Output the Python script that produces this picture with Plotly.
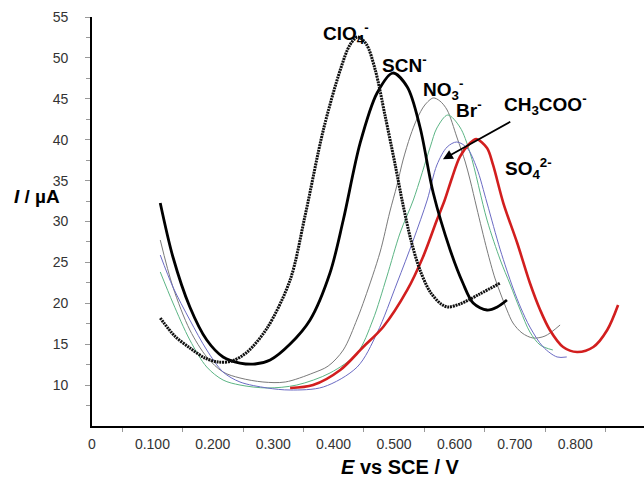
import plotly.graph_objects as go

# ---- data (E vs SCE / V, I / uA) ----
clo4_x = [0.113, 0.137, 0.162, 0.187, 0.209, 0.232, 0.257, 0.290, 0.328, 0.353, 0.383, 0.411, 0.427,
          0.440, 0.454, 0.469, 0.485, 0.502, 0.515, 0.528, 0.543, 0.560, 0.578, 0.589, 0.609, 0.642, 0.676]
clo4_y = [18.20, 16.00, 14.54, 13.31, 12.82, 12.95, 14.05, 16.98, 22.85, 30.79, 41.19, 48.52, 51.58,
          52.56, 51.70, 48.52, 43.02, 36.91, 32.02, 27.74, 24.07, 21.38, 19.91, 19.55, 19.91, 21.14, 22.48]

scn_x = [0.113, 0.134, 0.162, 0.190, 0.217, 0.245, 0.270, 0.295, 0.328, 0.361, 0.394, 0.416, 0.444,
         0.472, 0.498, 0.522, 0.543, 0.565, 0.593, 0.614, 0.631, 0.654, 0.671, 0.687]
scn_y = [32.26, 25.66, 19.55, 15.51, 13.44, 12.70, 12.58, 13.07, 15.02, 17.96, 23.70, 30.18, 39.60,
         45.71, 48.15, 46.44, 41.55, 33.48, 26.52, 22.48, 20.04, 19.18, 19.55, 20.40]

no3_x = [0.113, 0.134, 0.162, 0.190, 0.217, 0.245, 0.283, 0.320, 0.366, 0.391, 0.416, 0.439, 0.452,
         0.477, 0.493, 0.505, 0.515, 0.527, 0.538, 0.551, 0.565, 0.576, 0.588, 0.604, 0.618, 0.626,
         0.637, 0.654, 0.667, 0.676, 0.687, 0.697, 0.712, 0.730, 0.750, 0.775]
no3_y = [27.74, 21.99, 16.74, 13.44, 11.60, 10.87, 10.38, 10.38, 11.48, 12.33, 14.29, 18.08, 20.65,
         26.27, 31.16, 34.46, 37.52, 40.45, 42.53, 44.24, 45.10, 44.73, 43.63, 40.33, 37.27, 35.07,
         31.65, 26.52, 23.09, 21.26, 19.18, 17.59, 16.37, 15.76, 16.00, 17.35]

br_x = [0.113, 0.134, 0.162, 0.190, 0.217, 0.245, 0.290, 0.339, 0.394, 0.439, 0.465, 0.488, 0.510,
        0.532, 0.560, 0.571, 0.589, 0.609, 0.626, 0.654, 0.676, 0.692, 0.709, 0.725, 0.742, 0.763]
br_y = [23.83, 20.04, 15.51, 12.21, 10.62, 10.01, 9.65, 10.01, 11.48, 13.92, 17.96, 23.22, 28.59,
        32.63, 39.11, 41.43, 43.02, 41.55, 38.37, 30.18, 25.29, 22.36, 19.18, 16.49, 14.90, 14.29]

ac_x = [0.113, 0.134, 0.162, 0.190, 0.217, 0.245, 0.290, 0.328, 0.383, 0.439, 0.472, 0.505, 0.532,
        0.555, 0.571, 0.588, 0.604, 0.621, 0.637, 0.654, 0.676, 0.697, 0.710, 0.725, 0.747, 0.770, 0.786]
ac_y = [25.90, 21.99, 17.96, 14.29, 11.60, 10.38, 9.65, 9.40, 9.77, 12.21, 16.37, 22.48, 27.74,
        32.63, 36.91, 39.11, 39.72, 38.99, 36.54, 32.26, 26.52, 21.87, 19.43, 17.10, 14.66, 13.44, 13.44]

so4_x = [0.328, 0.366, 0.411, 0.449, 0.482, 0.522, 0.548, 0.571, 0.584, 0.596, 0.609, 0.626, 0.636,
         0.654, 0.664, 0.681, 0.704, 0.725, 0.742, 0.758, 0.780, 0.803, 0.830, 0.853, 0.871]
so4_y = [9.65, 10.01, 11.85, 14.66, 17.10, 21.63, 25.66, 30.18, 32.63, 35.32, 37.89, 39.60, 40.09,
         38.99, 36.91, 32.26, 27.37, 22.48, 19.18, 16.74, 14.66, 14.05, 14.66, 16.74, 19.79]

x_tickvals = [0, 0.1, 0.2, 0.3, 0.4, 0.5, 0.6, 0.7, 0.8]
x_ticktext = ["0", "0.100", "0.200", "0.300", "0.400", "0.500", "0.600", "0.700", "0.800"]
y_tickvals = [10, 15, 20, 25, 30, 35, 40, 45, 50, 55]

FONT = "Liberation Sans, Arial, sans-serif"

fig = go.Figure()

def add(x, y, color, width, dash="solid"):
    fig.add_trace(go.Scatter(x=x, y=y, mode="lines",
                             line=dict(color=color, width=width, dash=dash, shape="spline", smoothing=0.9),
                             hoverinfo="skip", showlegend=False))

add(no3_x, no3_y, "#7a7a7a", 1)
add(br_x, br_y, "#5cb585", 1)
add(ac_x, ac_y, "#6b6bc4", 1)
add(so4_x, so4_y, "#d21e1e", 2.6)
add(scn_x, scn_y, "#000000", 2.8)
add(clo4_x, clo4_y, "#111111", 3, dash="2px,0.8px")

lab = dict(family=FONT, size=19, color="black")
labels = [
    (0.379, 53.0, "<b>ClO<sub>4</sub><sup>-</sup></b>"),
    (0.477, 49.2, "<b>SCN<sup>-</sup></b>"),
    (0.545, 46.1, "<b>NO<sub>3</sub><sup>-</sup></b>"),
    (0.600, 43.7, "<b>Br<sup>-</sup></b>"),
    (0.679, 44.3, "<b>CH<sub>3</sub>COO<sup>-</sup></b>"),
    (0.680, 36.5, "<b>SO<sub>4</sub><sup>2-</sup></b>"),
]
for x, y, t in labels:
    fig.add_annotation(x=x, y=y, text=t, showarrow=False, xanchor="left", yanchor="middle", font=lab)

fig.add_annotation(x=0.581, y=37.6, ax=0.695, ay=42.3, axref="x", ayref="y", text="",
                   showarrow=True, arrowhead=2, arrowsize=1.1, arrowwidth=1.8, arrowcolor="black")

fig.add_annotation(xref="paper", yref="paper", x=0.558, y=-0.1, text="<b><i>E</i> vs SCE / V</b>",
                   showarrow=False, xanchor="center", yanchor="middle",
                   font=dict(family=FONT, size=20, color="black"))
fig.add_annotation(xref="paper", yref="paper", x=-0.145, y=0.56, text="<b><i>I</i> / µA</b>",
                   showarrow=False, xanchor="left", yanchor="middle",
                   font=dict(family=FONT, size=19, color="black"))

fig.update_layout(
    width=644, height=479, autosize=False,
    margin=dict(l=92, r=0, t=17, b=53),
    paper_bgcolor="white", plot_bgcolor="white",
    font=dict(family=FONT, size=14, color="#333333"),
)
fig.update_xaxes(range=[0, 0.9139], showgrid=False, zeroline=False,
                 showline=True, linecolor="black", linewidth=1.6,
                 tickvals=x_tickvals, ticktext=x_ticktext,
                 ticks="outside", ticklen=4, tickcolor="rgba(0,0,0,0)",
                 tickfont=dict(family=FONT, size=14, color="#333333"),
                 minor=dict(tickvals=[0.05, 0.15, 0.25, 0.35, 0.45, 0.55, 0.65, 0.75, 0.85],
                            ticks="outside", ticklen=4, tickcolor="#999999"))
fig.update_yaxes(range=[5, 55], showgrid=False, zeroline=False,
                 showline=True, linecolor="black", linewidth=1.8,
                 tickvals=y_tickvals, ticks="outside", ticklen=5, tickcolor="#999999",
                 ticklabelstandoff=14,
                 tickfont=dict(family=FONT, size=14, color="#333333"),
                 minor=dict(tickvals=[7.5, 12.5, 17.5, 22.5, 27.5, 32.5, 37.5, 42.5, 47.5, 52.5],
                            ticks="outside", ticklen=4, tickcolor="#999999"))

fig.write_html("out.html")
